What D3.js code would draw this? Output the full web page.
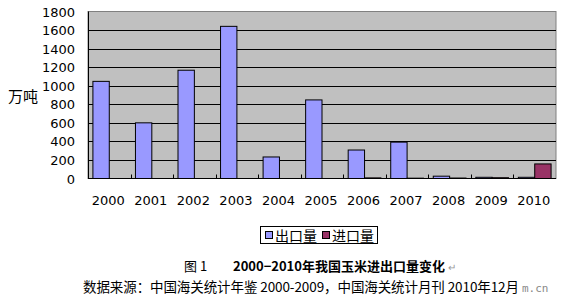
<!DOCTYPE html>
<html><head><meta charset="utf-8">
<script src="https://cdn.jsdelivr.net/npm/d3@7/dist/d3.min.js"></script>
<style>body{margin:0;background:#fff}svg{display:block}</style>
</head><body>
<svg id="c" width="568" height="298"></svg>
<script>
const years = ["2000","2001","2002","2003","2004","2005","2006","2007","2008","2009","2010"];
const exportVals = [1047, 600, 1167, 1640, 232, 847, 307, 392, 25, 13, 13];
const importVals = [0, 0, 0, 0, 0, 0, 6.5, 3.5, 5, 8.4, 157];
const seriesNames = ["出口量", "进口量"];
const yTicks = [0,200,400,600,800,1000,1200,1400,1600,1800];

const svg = d3.select("#c");
const L = 88, R = 556, T = 11.5, B = 178.5;
const cjk = "'Noto Sans CJK SC', sans-serif";
const num = "'DejaVu Sans', sans-serif";

const x = d3.scaleBand().domain(years).range([L, R]).paddingInner(0).paddingOuter(0);
const y = d3.scaleLinear().domain([0, 1800]).range([B, T]);
const inner = d3.scaleBand().domain([0,1]).range([0, x.bandwidth()]).paddingOuter(0.3).paddingInner(0);

svg.append("rect").attr("x", L).attr("y", T).attr("width", R - L).attr("height", B - T)
  .attr("fill", "#c0c0c0").attr("stroke", "#808080");

svg.append("g").selectAll("line").data(yTicks.slice(1, -1)).join("line")
  .attr("x1", L).attr("x2", R).attr("y1", d => Math.round(y(d)) + 0.5).attr("y2", d => Math.round(y(d)) + 0.5)
  .attr("stroke", "#000");

const colors = ["#9999ff", "#993366"];
[exportVals, importVals].forEach((vals, si) => {
  svg.append("g").selectAll("rect").data(years).join("rect")
    .attr("x", (d) => x(d) + inner(si))
    .attr("width", inner.bandwidth())
    .attr("y", (d, i) => y(vals[i]))
    .attr("height", (d, i) => B - y(vals[i]))
    .attr("fill", colors[si]).attr("stroke", "#000").attr("stroke-width", 1);
});

// axes
svg.append("line").attr("x1", L + 0.5).attr("x2", L + 0.5).attr("y1", T).attr("y2", B).attr("stroke", "#000");
svg.append("line").attr("x1", L).attr("x2", R).attr("y1", B).attr("y2", B).attr("stroke", "#000");
svg.append("g").selectAll("line").data(years.slice(1)).join("line")
  .attr("x1", d => Math.round(x(d)) + 0.5).attr("x2", d => Math.round(x(d)) + 0.5)
  .attr("y1", B).attr("y2", B - 4).attr("stroke", "#000");

svg.append("g").selectAll("text").data(yTicks).join("text")
  .attr("x", 75).attr("y", d => y(d) + 5).attr("text-anchor", "end")
  .attr("font-family", num).attr("font-size", 13).attr("fill", "#000").text(d => d);

svg.append("g").selectAll("text").data(years).join("text")
  .attr("x", d => x(d) + x.bandwidth() / 2 - 1).attr("y", 205).attr("text-anchor", "middle")
  .attr("font-family", num).attr("font-size", 13).attr("fill", "#000").text(d => d);

svg.append("text").attr("x", 8).attr("y", 102).attr("font-family", cjk).attr("font-size", 15).text("万吨");

// legend
const lg = svg.append("g");
lg.append("rect").attr("x", 260.5).attr("y", 226.5).attr("width", 117).attr("height", 17).attr("fill", "#fff").attr("stroke", "#000");
const lx = [265, 322];
seriesNames.forEach((n, i) => {
  lg.append("rect").attr("x", lx[i] + 0.5).attr("y", 231.5).attr("width", 7).attr("height", 7).attr("fill", colors[i]).attr("stroke", "#000");
  lg.append("text").attr("x", lx[i] + 10).attr("y", 240.5).attr("font-family", cjk).attr("font-size", 14).text(n);
});

// caption
svg.append("text").attr("x", 184).attr("y", 271).attr("font-family", cjk).attr("font-size", 13).text("图 1");
svg.append("text").attr("x", 233).attr("y", 271).attr("font-family", cjk).attr("font-size", 13).attr("font-weight", "bold")
  .attr("textLength", 212).text("2000−2010年我国玉米进出口量变化");
svg.append("text").attr("x", 448).attr("y", 271).attr("font-family", cjk).attr("font-size", 10).attr("fill", "#999").text("↵");
svg.append("text").attr("x", 83).attr("y", 292).attr("font-family", cjk).attr("font-size", 13.5)
  .attr("textLength", 436).text("数据来源：中国海关统计年鉴 2000-2009，中国海关统计月刊 2010年12月");
svg.append("text").attr("x", 522).attr("y", 292).attr("font-family", "'DejaVu Sans Mono', monospace").attr("font-size", 11)
  .attr("fill", "#555").attr("opacity", 0.7).text("m.cn");
</script>
</body></html>
